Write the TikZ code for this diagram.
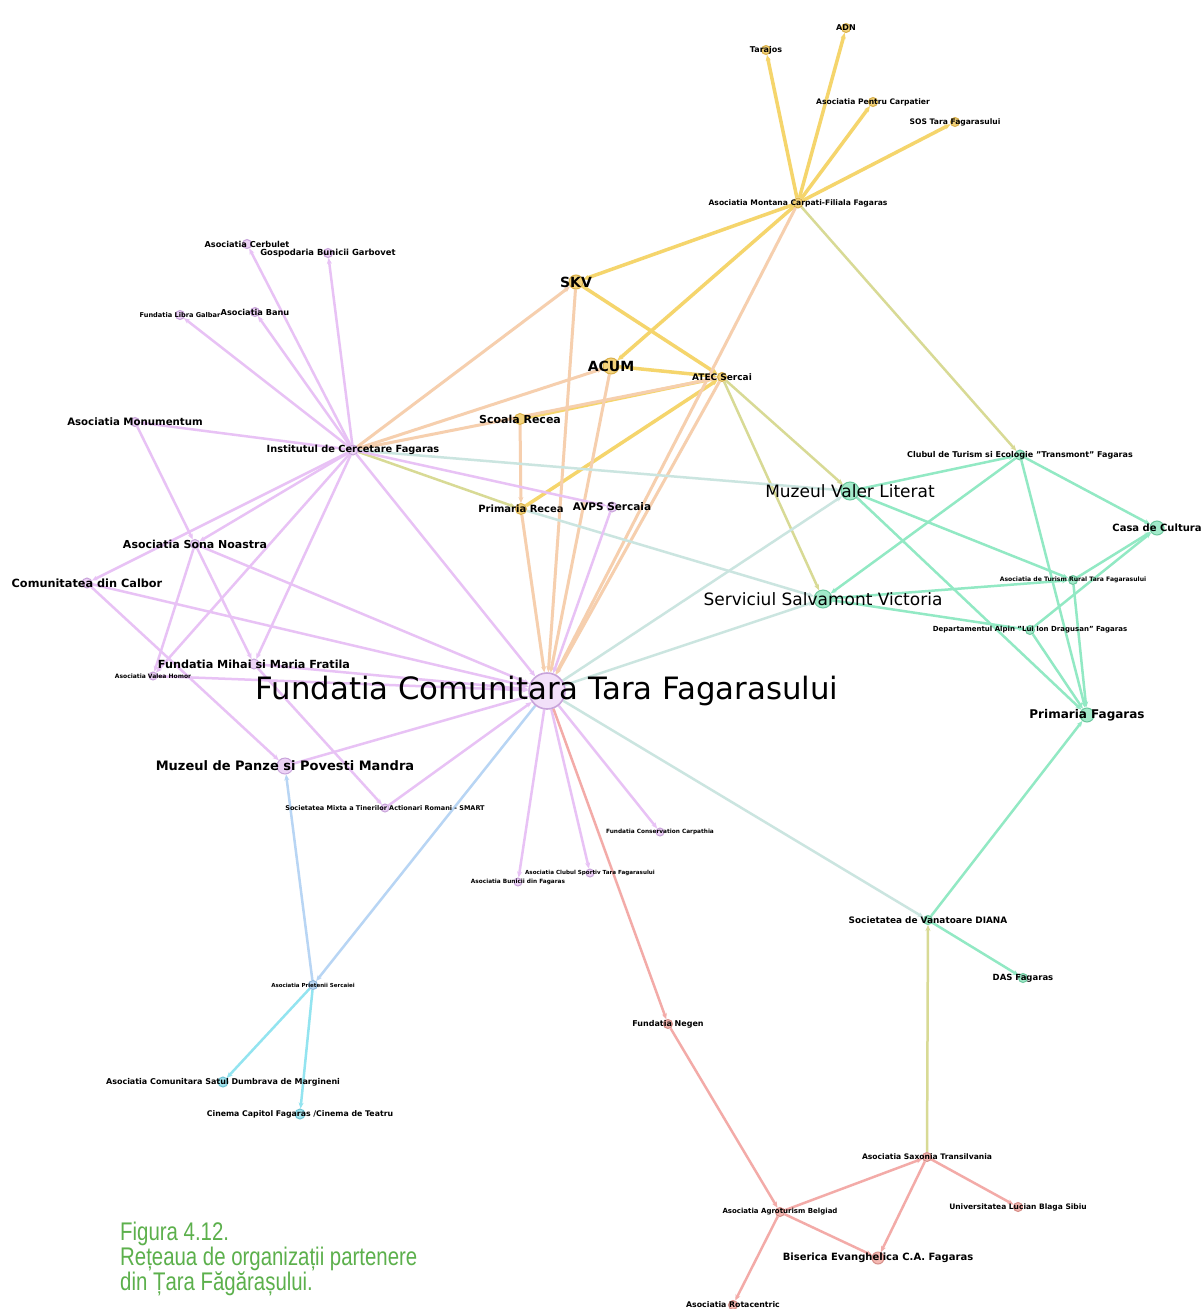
\documentclass[tikz,border=0pt]{standalone}
\usepackage{fontspec}
\setmainfont{DejaVu Sans}
\newfontfamily\capfont[FakeStretch=0.8]{Liberation Sans}
\usetikzlibrary{arrows.meta,backgrounds}

\definecolor{yfill}{HTML}{F3D27A}
\definecolor{ydraw}{HTML}{D9B04A}
\definecolor{pfill}{HTML}{EDD3F6}
\definecolor{pdraw}{HTML}{C8A3DA}
\definecolor{gfill}{HTML}{A2EACA}
\definecolor{gdraw}{HTML}{6CC79E}
\definecolor{rfill}{HTML}{F4B8B2}
\definecolor{rdraw}{HTML}{D68E88}
\definecolor{bfill}{HTML}{BCD8F3}
\definecolor{bdraw}{HTML}{8DB5DA}
\definecolor{cfill}{HTML}{A3E5F0}
\definecolor{cdraw}{HTML}{70C4D4}
\definecolor{yline}{HTML}{F5D56C}
\definecolor{pline}{HTML}{F6CFAE}
\definecolor{oline}{HTML}{D8DA95}
\definecolor{tline}{HTML}{CBE5E0}
\definecolor{gline}{HTML}{92E9C4}
\definecolor{vline}{HTML}{E8C2F5}
\definecolor{bline}{HTML}{B8D5F4}
\definecolor{cline}{HTML}{93E4F0}
\definecolor{rline}{HTML}{F3ABA8}
\definecolor{capgreen}{RGB}{92,176,76}

\begin{document}
\begin{tikzpicture}[x=1pt, y=-1pt]
  \tikzstyle{every node}=[inner sep=0pt]
  \tikzstyle{vert}=[circle, line width=1pt]
  \tikzstyle{yv}=[vert, draw=ydraw, fill=yfill]
  \tikzstyle{pv}=[vert, draw=pdraw, fill=pfill]
  \tikzstyle{hv}=[vert, draw=pdraw, fill=pfill!70, line width=1.6pt]
  \tikzstyle{gv}=[vert, draw=gdraw, fill=gfill]
  \tikzstyle{rv}=[vert, draw=rdraw, fill=rfill]
  \tikzstyle{bv}=[vert, draw=bdraw, fill=bfill]
  \tikzstyle{cv}=[vert, draw=cdraw, fill=cfill]
  \tikzstyle{lbl}=[font=\bfseries, text=black]
  \tikzstyle{lnk}=[line width=2.5pt, -{Stealth[length=6pt, width=5pt]}]

  \useasboundingbox (0,0) rectangle (1203,1309);

  % organisations: name/x/y/style/size/font size/label
  \foreach \nm/\xx/\yy/\st/\sz/\ft/\tx in {
    montana/798/203/yv/10/7.6/{Asociatia Montana Carpati-Filiala Fagaras},
    trajos/766/50/yv/9/8/{Tarajos},
    adn/846/28/yv/9/8/{ADN},
    pentru/873/102/yv/9/7.6/{Asociatia Pentru Carpatier},
    sos/955/122/yv/9/7.6/{SOS Tara Fagarasului},
    skv/576/282/yv/14/14/{SKV},
    acum/611/366/yv/16/14/{ACUM},
    atec/722/377/yv/9/9/{ATEC Sercai},
    scoala/520/419/yv/11/11/{Scoala Recea},
    precea/521/509/yv/11/10/{Primaria Recea},
    avps/612/507/pv/10/10.5/{AVPS Sercaia},
    inst/353/450/pv/10/9.8/{Institutul de Cercetare Fagaras},
    monum/135/422/pv/9/10.2/{Asociatia Monumentum},
    sona/195/544/pv/9/11/{Asociatia Sona Noastra},
    calbor/87/583/pv/10/11.3/{Comunitatea din Calbor},
    mihai/254/664/pv/10/11.2/{Fundatia Mihai si Maria Fratila},
    homor/153/676/pv/8/6/{Asociatia Valea Homor},
    panze/285/766/pv/16/13/{Muzeul de Panze si Povesti Mandra},
    cerb/247/244/pv/9/8.2/{Asociatia Cerbulet},
    gosp/328/253/pv/9/8.4/{Gospodaria Bunicii Garbovet},
    libra/180/315/pv/9/6.6/{Fundatia Libra Galbar},
    banu/255/312/pv/9/8.2/{Asociatia Banu},
    smart/385/808/pv/8/6.5/{Societatea Mixta a Tinerilor Actionari Romani - SMART},
    conserv/660/832/pv/8/5.8/{Fundatia Conservation Carpathia},
    clubsp/590/873/pv/8/5.6/{Asociatia Clubul Sportiv Tara Fagarasului},
    bunicii/518/882/pv/8/5.8/{Asociatia Bunicii din Fagaras},
    hub/547/691/hv/36/30.8/{\mdseries Fundatia Comunitara Tara Fagarasului},
    valer/850/491/gv/18/17/{\mdseries Muzeul Valer Literat},
    salv/823/599/gv/18/17/{\mdseries Serviciul Salvamont Victoria},
    transm/1020/455/gv/10/8/{Clubul de Turism si Ecologie "Transmont" Fagaras},
    casa/1157/528/gv/14/10/{Casa de Cultura},
    turism/1073/580/gv/9/6.1/{Asociatia de Turism Rural Tara Fagarasului},
    dept/1030/630/gv/9/7/{Departamentul Alpin "Lui Ion Dragusan" Fagaras},
    pfag/1087/715/gv/14/12/{Primaria Fagaras},
    diana/928/920/gv/9/8.9/{Societatea de Vanatoare DIANA},
    das/1023/978/gv/9/8.5/{DAS Fagaras},
    negen/668/1024/rv/9/8/{Fundatia Negen},
    saxon/927/1157/rv/9/7.6/{Asociatia Saxonia Transilvania},
    univ/1018/1207/rv/9/7.5/{Universitatea Lucian Blaga Sibiu},
    agro/780/1212/rv/9/7/{Asociatia Agroturism Belgiad},
    biser/878/1258/rv/12/10/{Biserica Evanghelica C.A. Fagaras},
    rota/733/1305/rv/9/7.8/{Asociatia Rotacentric},
    prieten/313/985/bv/9/5.5/{Asociatia Prietenii Sercaiei},
    comsat/223/1082/cv/10/8/{Asociatia Comunitara Satul Dumbrava de Margineni},
    cinema/300/1114/cv/10/7.8/{Cinema Capitol Fagaras /Cinema de Teatru}}
  {
    \path (\xx,\yy) node[\st, minimum size=\sz pt] (\nm) {}
      node[lbl] (\nm-t) {\fontsize{\ft}{\ft}\selectfont\tx};
  }

  \begin{pgfonlayer}{background}
    \fill[white] (0,0) rectangle (1203,1309);

    \draw[lnk, yline, line width=3.5pt]
      (montana) edge (trajos) (montana) edge (adn)
      (montana) edge (pentru) (montana) edge (sos)
      (montana) edge (skv) (montana) edge (acum)
      (skv) edge (atec) (acum) edge (atec)
      (scoala) edge (atec) (precea) edge (atec);

    \draw[lnk, pline, line width=3pt]
      (montana) edge (hub) (inst) edge (skv)
      (inst) edge (acum) (inst) edge (atec)
      (skv) edge (hub) (acum) edge (hub)
      (scoala) edge (precea) (precea) edge (hub)
      (atec) edge (hub);

    \draw[lnk, oline]
      (montana) edge (transm) (atec) edge (salv)
      (atec) edge (valer) (inst) edge (precea)
      (saxon) edge (diana);

    \draw[lnk, tline]
      (inst) edge (valer) (hub) edge (valer)
      (hub) edge (salv) (precea) edge (salv)
      (hub) edge (diana);

    \draw[lnk, gline]
      (valer) edge (transm) (transm) edge (salv)
      (transm) edge (casa) (transm) edge (pfag)
      (valer) edge (turism) (valer) edge (pfag)
      (salv) edge (turism) (salv) edge (dept)
      (dept) edge (casa) (turism) edge (casa)
      (turism) edge (pfag) (dept) edge (pfag)
      (diana) edge (pfag) (diana) edge (das);

    \draw[lnk, vline]
      (inst) edge (cerb) (inst) edge (gosp)
      (inst) edge (libra) (inst) edge (banu)
      (inst) edge (monum) (inst) edge (sona)
      (inst) edge (calbor) (inst) edge (homor)
      (inst) edge (mihai) (inst) edge (hub)
      (inst) edge (avps)
      (monum) edge (sona) (sona) edge (mihai)
      (sona) edge (homor) (sona) edge (hub)
      (calbor) edge (panze) (calbor) edge (hub)
      (mihai) edge (hub) (mihai) edge (smart)
      (homor) edge (hub) (panze) edge (hub)
      (smart) edge (hub) (avps) edge (hub)
      (hub) edge (conserv) (hub) edge (clubsp)
      (hub) edge (bunicii);

    \draw[lnk, bline]
      (prieten) edge (panze) (hub) edge (prieten);

    \draw[lnk, cline]
      (prieten) edge (comsat) (prieten) edge (cinema);

    \draw[lnk, rline]
      (hub) edge (negen) (negen) edge (agro)
      (agro) edge (saxon) (agro) edge (biser)
      (agro) edge (rota) (saxon) edge (biser)
      (saxon) edge (univ);
  \end{pgfonlayer}

  \node[anchor=north west, align=left, text=capgreen,
    font=\capfont\fontsize{25.5}{25}\selectfont] (caption) at (120,1222)
    {Figura 4.12.\\Rețeaua de organizații partenere\\din Țara Făgărașului.};
\end{tikzpicture}
\end{document}
